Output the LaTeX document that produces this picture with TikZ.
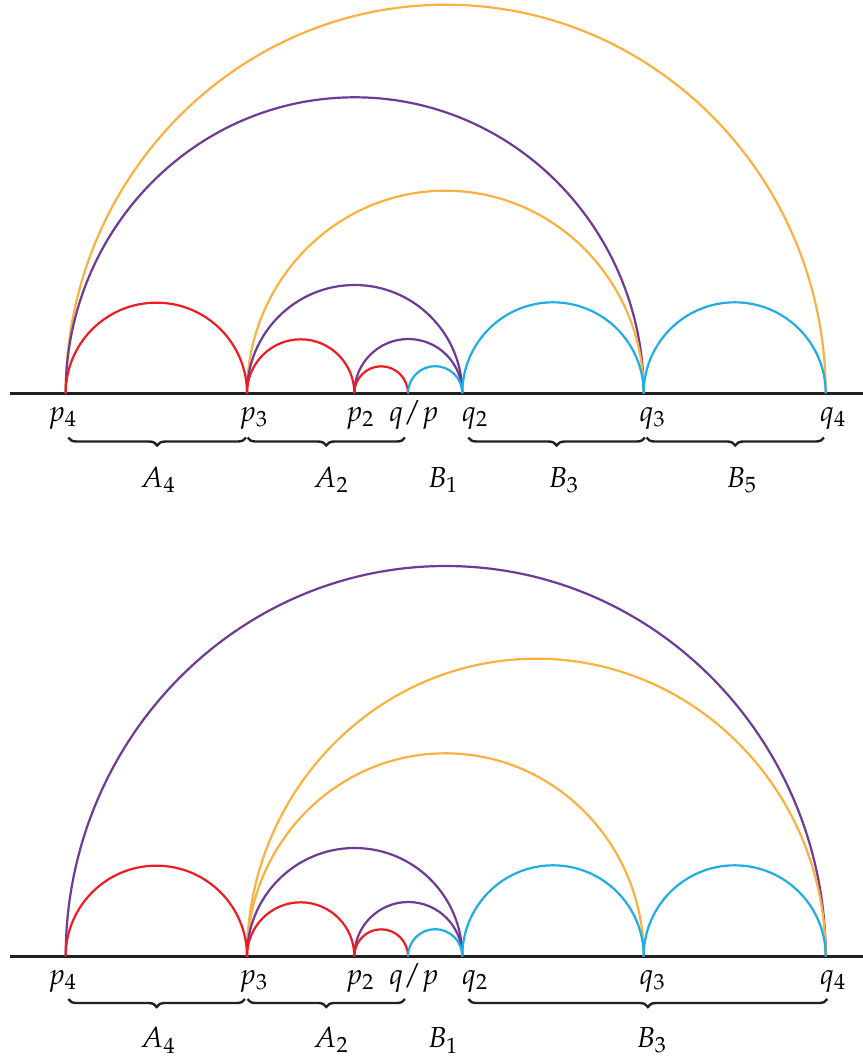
\documentclass[tikz,border=0pt]{standalone}
\usepackage{mathpazo}
\usetikzlibrary{decorations.pathreplacing}
\definecolor{cred}{HTML}{ED1C24}
\definecolor{corange}{HTML}{FBB040}
\definecolor{cpurple}{HTML}{6F3996}
\definecolor{cblue}{HTML}{1FADE4}
\definecolor{caxis}{HTML}{231F20}
\newcommand{\hArc}[4]{\draw[arcline,#1] (#2) arc[start angle=180,end angle=0,x radius=#3,y radius=#4];}
\begin{document}
\begin{tikzpicture}[x=0.5pt,y=0.5pt,
  arcline/.style={line width=1.1pt},
  axisline/.style={line width=1.3pt, color=caxis},
  ptlabel/.style={anchor=base, inner sep=0pt, font=\fontsize{14.5}{17}\selectfont},
  brc/.style={decorate, decoration={brace, mirror, amplitude=4pt}, line width=1.2pt, color=caxis},
]
\useasboundingbox (0,0) rectangle (863,-1057);
\foreach \n/\x in {P4/65.7, P3/247, P2/354.3, QP/408, Q2/462.3, Q3/643.7, Q4/825.7} {
  \coordinate (a\n) at (\x,-393.3);
  \coordinate (b\n) at (\x,-956.3);
}
\coordinate (aL) at (9.5,-393.3); \coordinate (aR) at (863,-393.3);
\coordinate (bL) at (9.5,-956.3); \coordinate (bR) at (863,-956.3);

% ---------- top diagram ----------
\draw[axisline] (aL) -- (aR);
\hArc{corange}{aP4}{380}{388.6}
\hArc{cpurple}{aP4}{289}{296}
\hArc{corange}{aP3}{198.35}{202.6}
\hArc{cpurple}{aP3}{107.65}{108.3}
\hArc{cpurple}{aP2}{54}{54.3}
\hArc{cred}{aP4}{90.65}{90.65}
\hArc{cred}{aP3}{53.65}{54}
\hArc{cred}{aP2}{26.85}{27}
\hArc{cblue}{aQP}{27.15}{27.15}
\hArc{cblue}{aQ2}{90.7}{91}
\hArc{cblue}{aQ3}{91}{91}

\node[ptlabel] (tlP4) at (62.5,-421.5) {$p_4$};
\node[ptlabel] (tlP3) at (253.7,-421.5) {$p_3$};
\node[ptlabel] (tlP2) at (360,-421.5) {$p_2$};
\node[ptlabel] (tlQP) at (413.8,-421.5) {$q/p$};
\node[ptlabel] (tlQ2) at (475,-421.5) {$q_2$};
\node[ptlabel] (tlQ3) at (652.5,-421.5) {$q_3$};
\node[ptlabel] (tlQ4) at (833,-421.5) {$q_4$};

\coordinate (tb1) at (68.3,-437.5); \coordinate (tb2) at (246,-437.5);
\coordinate (tb3) at (247.5,-437.5); \coordinate (tb4) at (405,-437.5);
\coordinate (tb5) at (468.3,-437.5); \coordinate (tb6) at (645,-437.5);
\coordinate (tb7) at (646.5,-437.5); \coordinate (tb8) at (824,-437.5);
\draw[brc] (tb1) -- (tb2);
\draw[brc] (tb3) -- (tb4);
\draw[brc] (tb5) -- (tb6);
\draw[brc] (tb7) -- (tb8);
\node[ptlabel] (tA4) at (158,-487) {$A_4$};
\node[ptlabel] (tA2) at (331,-487) {$A_2$};
\node[ptlabel] (tB1) at (443,-487) {$B_1$};
\node[ptlabel] (tB3) at (563.7,-487) {$B_3$};
\node[ptlabel] (tB5) at (741.7,-487) {$B_5$};

% ---------- bottom diagram ----------
\draw[axisline] (bL) -- (bR);
\hArc{cpurple}{bP4}{380}{390.3}
\hArc{corange}{bP3}{289.35}{297.6}
\hArc{corange}{bP3}{198.35}{203}
\hArc{cpurple}{bP3}{107.65}{108.3}
\hArc{cpurple}{bP2}{54}{54.3}
\hArc{cred}{bP4}{90.65}{90.65}
\hArc{cred}{bP3}{53.65}{54}
\hArc{cred}{bP2}{26.85}{27}
\hArc{cblue}{bQP}{27.15}{27.15}
\hArc{cblue}{bQ2}{90.7}{91}
\hArc{cblue}{bQ3}{91}{91}

\node[ptlabel] (blP4) at (62.5,-984.5) {$p_4$};
\node[ptlabel] (blP3) at (253.7,-984.5) {$p_3$};
\node[ptlabel] (blP2) at (360,-984.5) {$p_2$};
\node[ptlabel] (blQP) at (413.8,-984.5) {$q/p$};
\node[ptlabel] (blQ2) at (475,-984.5) {$q_2$};
\node[ptlabel] (blQ3) at (652.5,-984.5) {$q_3$};
\node[ptlabel] (blQ4) at (833,-984.5) {$q_4$};

\coordinate (bb1) at (68.3,-999); \coordinate (bb2) at (245,-999);
\coordinate (bb3) at (247.5,-999); \coordinate (bb4) at (405,-999);
\coordinate (bb5) at (468.3,-999); \coordinate (bb6) at (827.3,-999);
\draw[brc] (bb1) -- (bb2);
\draw[brc] (bb3) -- (bb4);
\draw[brc] (bb5) -- (bb6);
\node[ptlabel] (bA4) at (158,-1047.7) {$A_4$};
\node[ptlabel] (bA2) at (331,-1047.7) {$A_2$};
\node[ptlabel] (bB1) at (443,-1047.7) {$B_1$};
\node[ptlabel] (bB3) at (651.7,-1047.7) {$B_3$};
\end{tikzpicture}
\end{document}
